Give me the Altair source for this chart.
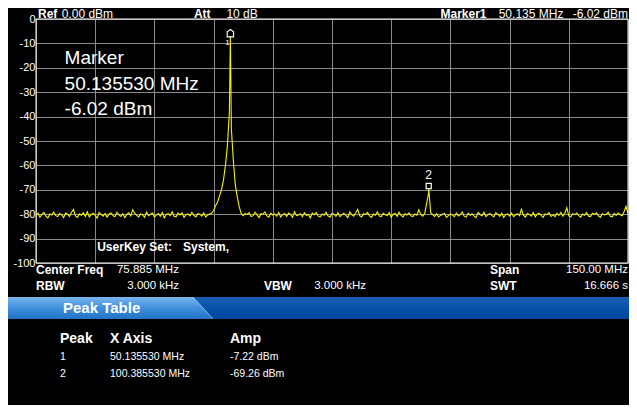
import math
import altair as alt
import pandas as pd

# ---------------- data ----------------
ref_level = 0.00
attenuation = 10
center_freq = 75.885
span = 150.00
rbw_khz = 3.000
vbw_khz = 3.000
sweep_time = 16.666
userkey_set = "System,"

marker_freq = 50.135530
marker_amp = -6.02

peak_ids = [1, 2]
peak_freqs = [50.135530, 100.385530]
peak_amps = [-7.22, -69.26]

y_ticks = [0, -10, -20, -30, -40, -50, -60, -70, -80, -90, -100]

sweep_step = 0.5  # MHz between displayed sweep points
trace_amps = [
    -80.4, -79.6, -81.2, -80.1, -79.3, -80.8, -81.5, -79.9, -80.3, -79.1, -80.6, -81.0, -79.7, -80.2, -81.4, -79.5, -80.0, -80.9, -79.2, -78.1,
    -80.7, -81.3, -79.8, -80.4, -79.4, -80.9, -79.0, -81.1, -80.2, -79.6, -80.5, -81.6, -79.3, -80.1, -80.8, -79.7, -81.2, -80.0, -79.5, -80.6,
    -81.0, -79.2, -80.3, -80.9, -79.8, -81.4, -80.1, -79.4, -80.7, -78.2, -79.6, -80.5, -81.1, -79.9, -80.2, -81.3, -79.1, -80.6, -80.0, -79.5,
    -81.2, -80.4, -79.7, -80.8, -79.3, -81.5, -80.1, -79.8, -80.6, -79.0, -80.9, -81.0, -79.6, -80.3, -79.4, -81.3, -80.2, -79.9, -80.7, -79.2,
    -80.5, -81.1, -79.8, -80.0, -80.8, -79.5, -81.2, -80.3, -79.9,
    -79.6, -78.5, -76.5, -75.0, -72.5, -70.0, -66.0, -60.0, -52.0, -38.0,
    -45.0, -58.0, -68.0, -73.0, -77.0, -79.8, -80.6, -79.7,
    -80.1, -79.4, -81.0, -80.6, -79.2, -80.3, -81.4, -79.8, -80.0, -79.1, -80.7, -81.2, -79.6, -80.4, -79.9, -80.8, -79.3, -81.1, -80.2, -79.7,
    -80.9, -79.5, -80.1, -81.3, -79.0, -80.6, -80.3, -79.8, -81.0, -79.4, -80.5, -80.0, -81.5, -79.6, -80.2, -79.3, -80.8, -81.1, -79.9, -80.4,
    -79.2, -80.7, -81.2, -79.7, -80.0, -80.9, -79.4, -81.0, -80.3, -79.6, -80.5, -81.4, -79.1, -80.2, -80.8, -79.5, -78.0, -80.6, -81.1, -79.8,
    -80.1, -79.3, -80.7, -81.3, -79.9, -80.4, -79.0, -80.8, -81.0, -79.6, -80.2, -80.6, -79.4, -81.2, -80.0, -79.7, -80.9, -79.2, -80.5, -81.1,
    -79.8, -80.3, -79.5, -80.7, -81.0, -79.9, -80.4, -78.2, -80.1, -80.8, -79.6,
    -75.5, -71.0,
    -79.4, -80.2, -80.9, -79.8, -81.1, -80.5, -80.0, -79.7, -81.3, -80.6, -79.9, -80.3, -81.0, -79.5, -80.7, -80.2, -79.1, -80.9, -81.2, -79.6,
    -80.4, -79.8, -80.8, -81.4, -79.3, -80.1, -80.6, -79.2, -81.0, -80.3, -79.7, -80.5, -81.1, -79.4, -80.0, -80.9, -79.6, -81.3, -80.2, -79.9,
    -80.7, -79.5, -81.0, -80.3, -79.8, -80.6, -78.0, -80.4, -81.2, -79.7, -80.1, -80.8, -79.3, -81.1, -80.0, -79.6, -80.5, -81.3, -79.9, -80.2,
    -79.4, -80.9, -80.3, -81.0, -79.7, -80.5, -79.2, -80.8, -79.6, -77.3, -80.7, -81.1, -79.8, -80.2, -79.5, -80.6, -81.2, -79.9, -80.4, -79.3,
    -80.8, -81.0, -79.6, -80.1, -79.4, -80.7, -81.3, -79.8, -80.3, -80.0, -79.2, -80.9, -81.1, -79.7, -80.5, -79.5, -80.2, -80.6, -79.0, -76.8, -79.8,
]

# ---------------- tables built from the data ----------------
f_start = center_freq - span / 2
f_stop = center_freq + span / 2
x_grid = [f_start + span / 10 * i for i in range(11)]
sweep_freqs = [f_start + sweep_step * i for i in range(len(trace_amps))]

trace = pd.DataFrame({
    "freq": sweep_freqs + peak_freqs,
    "amp": trace_amps + peak_amps,
}).sort_values("freq")
peaks = pd.DataFrame({"id": peak_ids, "freq": peak_freqs, "amp": peak_amps})
marker = pd.DataFrame({"freq": [marker_freq], "amp": [marker_amp]})
one = pd.DataFrame({"v": [0]})

# ---------------- layout ----------------
W, H = 592, 244
FONT = "Liberation Sans"
GRID = "#8a8a8a"
YEL = "#F4F400"

xs = alt.Scale(domain=[f_start, f_stop], nice=False, zero=False)
ys = alt.Scale(domain=[-100, 0], nice=False, zero=False)

X_AXIS = alt.Axis(values=x_grid, labels=False, ticks=False, domain=False,
                  grid=True, gridColor=GRID, gridWidth=1, title=None)
Y_AXIS = alt.Axis(values=y_ticks, labelColor="white", labelFont=FONT,
                  labelFontSize=11, labelPadding=1, ticks=False, domain=False,
                  labelFlush=False, labelOverlap=False, labelBound=False,
                  labelExpr="datum.value + ''",
                  grid=True, gridColor=GRID, gridWidth=1, title=None)
X = alt.X("freq:Q", scale=xs, axis=X_AXIS)
Y = alt.Y("amp:Q", scale=ys, axis=Y_AXIS)


def txt(s, x, y, size=12, bold=False, align="left"):
    return alt.Chart(one).mark_text(
        text=s, align=align, baseline="middle", font=FONT, fontSize=size,
        fontWeight="bold" if bold else "normal", color="white"
    ).encode(x=alt.value(x), y=alt.value(y))


line = alt.Chart(trace).mark_line(color=YEL, strokeWidth=1.1, clip=True).encode(x=X, y=Y)

border = alt.Chart(one).mark_rect(fillOpacity=0, stroke="white", strokeWidth=1).encode(
    x=alt.value(0), x2=alt.value(W), y=alt.value(0), y2=alt.value(H))

house = "M0,-1.3L1,-0.6L1,1L-1,1L-1,-0.6Z"
m1 = alt.Chart(marker).mark_point(shape=house, size=40, filled=False, stroke="white", strokeWidth=1.2,
                                  opacity=1, strokeJoin="miter").encode(x=X, y=Y)
m1_lbl = alt.Chart(marker).mark_text(text="1", color="white", font=FONT, fontSize=8, dx=-3, dy=9).encode(
    x=X, y=Y)

p2 = alt.Chart(peaks).transform_filter("datum.id == 2")
m2 = p2.mark_point(shape="M-1,-1L1,-1L1,1L-1,1Z", size=26, filled=False, stroke="white", strokeWidth=1.2,
                   opacity=1, strokeJoin="miter", yOffset=-2).encode(x=X, y=Y)
m2_lbl = p2.mark_text(color="white", font=FONT, fontSize=12, dy=-13).encode(
    x=X, y=Y, text="id:N")

# blue "Peak Table" band
dark = alt.LinearGradient(gradient="linear", x1=0, y1=0, x2=0, y2=1, stops=[
    alt.GradientStop(color="#1a5fb4", offset=0), alt.GradientStop(color="#0750a8", offset=0.5),
    alt.GradientStop(color="#0046a0", offset=1)])
light = alt.LinearGradient(gradient="linear", x1=0, y1=0, x2=0, y2=1, stops=[
    alt.GradientStop(color="#7ab6ec", offset=0), alt.GradientStop(color="#3f8fdc", offset=0.5),
    alt.GradientStop(color="#2272c6", offset=1)])
band_dark = alt.Chart(one).mark_rect(fill=dark).encode(
    x=alt.value(-28), x2=alt.value(593), y=alt.value(278), y2=alt.value(300))
band_light = alt.Chart(one).mark_rect(fill=light).encode(
    x=alt.value(-28), x2=alt.value(157), y=alt.value(278), y2=alt.value(300))
band_tri = alt.Chart(one).mark_point(shape="M-1,-1.1L1,1.1L-1,1.1Z", size=400, filled=True, fill=light,
                                     strokeWidth=0, opacity=1).encode(x=alt.value(167), y=alt.value(289))
band_edge = alt.Chart(one).mark_rule(color="#9ccaf2", strokeWidth=1, opacity=0.8).encode(
    x=alt.value(157), x2=alt.value(177), y=alt.value(278), y2=alt.value(300))

marker_freq_short = math.floor(marker_freq * 1000) / 1000

texts = [
    txt("Ref", 2, -5, bold=True),
    txt(f"{ref_level:.2f} dBm", 25.7, -5),
    txt("Att", 157.9, -5, bold=True),
    txt(f"{attenuation} dB", 190.4, -5),
    txt("Marker1", 404.5, -5, bold=True),
    txt(f"{marker_freq_short:.3f} MHz", 462.7, -5),
    txt(f"{marker_amp:.2f} dBm", 592, -5, align="right"),
    txt("Marker", 28.6, 39.2, size=19),
    txt(f"{marker_freq:.6f} MHz", 28.6, 64.7, size=19),
    txt(f"{marker_amp:.2f} dBm", 28.6, 90.1, size=19),
    txt("UserKey Set:", 61.2, 228.3, bold=True),
    txt(userkey_set, 147.0, 228.3, bold=True),
    txt("Center Freq", 0, 251, bold=True),
    txt(f"{center_freq:.3f} MHz", 80.9, 251, size=11.5),
    txt("Span", 453.9, 251, bold=True),
    txt(f"{span:.2f} MHz", 592, 251, size=11.5, align="right"),
    txt("RBW", 0, 267, bold=True),
    txt(f"{rbw_khz:.3f} kHz", 143.1, 267, size=11.5, align="right"),
    txt("VBW", 227.9, 267, bold=True),
    txt(f"{vbw_khz:.3f} kHz", 278.2, 267, size=11.5),
    txt("SWT", 453.9, 267, bold=True),
    txt(f"{sweep_time:.3f} s", 592, 267, size=11.5, align="right"),
    txt("Peak Table", 27, 289, size=15, bold=True),
    txt("Peak", 24, 320, size=14, bold=True),
    txt("X Axis", 74, 320, size=14, bold=True),
    txt("Amp", 194, 320, size=14, bold=True),
]
for i, (pid, pf, pa) in enumerate(zip(peak_ids, peak_freqs, peak_amps)):
    yy = 338 + 17 * i
    texts += [txt(str(pid), 24, yy, size=10.5),
              txt(f"{pf:.6f} MHz", 74, yy, size=10.5),
              txt(f"{pa:.2f} dBm", 194, yy, size=10.5)]

chart = alt.layer(
    line, border, m1, m1_lbl, m2, m2_lbl,
    band_dark, band_light, band_tri, band_edge, *texts
).properties(
    width=W, height=H, background="black",
    padding={"left": 28, "top": 11, "right": 1, "bottom": 142},
    autosize=alt.AutoSizeParams(type="none"),
).configure_view(stroke=None).configure_axis(labelOverlap=False)

chart.save("out.html", embed_options={"renderer": "svg", "actions": False})
